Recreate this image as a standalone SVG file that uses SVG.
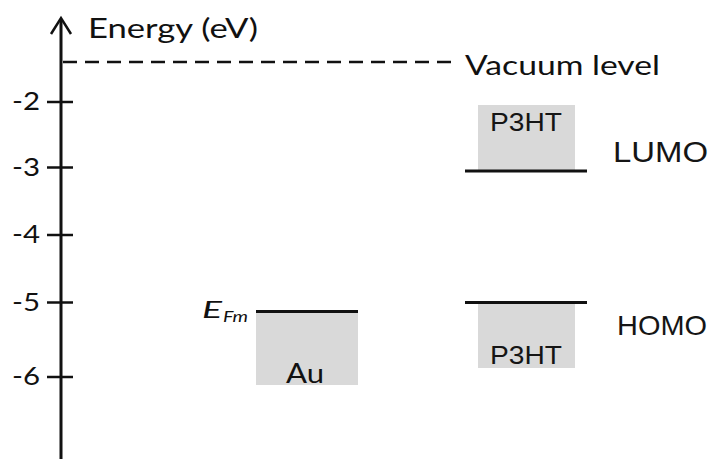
<svg xmlns="http://www.w3.org/2000/svg" width="719" height="459" viewBox="0 0 719 459">
<style>
.cal{font-family:Lato,"Open Sans","Liberation Sans",sans-serif;fill:#111}
.ari{font-family:"Liberation Sans",Arial,sans-serif;fill:#151515}
.band{fill:#d9d9d9}
.lvl{stroke:#111;stroke-width:3;fill:none}
.tick{stroke:#111;stroke-width:2.5;fill:none}
</style>
<rect width="719" height="459" fill="#fff"/>
<g id="axis">
<line x1="61" y1="19" x2="61" y2="459" stroke="#111" stroke-width="3"/>
<polyline points="51,34 61,18 71,34" fill="none" stroke="#111" stroke-width="2.5"/>
<text class="cal" x="88" y="38" font-size="26" textLength="170" lengthAdjust="spacingAndGlyphs">Energy (eV)</text>
<line class="tick" x1="47" y1="102" x2="73" y2="102"/>
<line class="tick" x1="47" y1="167.5" x2="73" y2="167.5"/>
<line class="tick" x1="47" y1="235" x2="73" y2="235"/>
<line class="tick" x1="47" y1="302.5" x2="73" y2="302.5"/>
<line class="tick" x1="47" y1="377" x2="73" y2="377"/>
<text class="cal" x="12" y="110" font-size="25" textLength="28" lengthAdjust="spacingAndGlyphs">-2</text>
<text class="cal" x="12" y="175.5" font-size="25" textLength="28" lengthAdjust="spacingAndGlyphs">-3</text>
<text class="cal" x="12" y="243" font-size="25" textLength="28" lengthAdjust="spacingAndGlyphs">-4</text>
<text class="cal" x="12" y="310.5" font-size="25" textLength="28" lengthAdjust="spacingAndGlyphs">-5</text>
<text class="cal" x="12" y="385" font-size="25" textLength="28" lengthAdjust="spacingAndGlyphs">-6</text>
</g>
<g id="vacuum">
<line x1="63" y1="62" x2="455" y2="62" stroke="#111" stroke-width="2.5" stroke-dasharray="14,8"/>
<text class="cal" x="465" y="75" font-size="27" textLength="195" lengthAdjust="spacingAndGlyphs">Vacuum level</text>
</g>
<g id="p3ht-lumo">
<rect class="band" x="478" y="105" width="97" height="65"/>
<line class="lvl" x1="465" y1="171" x2="587" y2="171"/>
<text class="ari" x="490" y="131" font-size="26" textLength="72" lengthAdjust="spacingAndGlyphs">P3HT</text>
<text class="ari" x="613" y="162" font-size="30" textLength="95" lengthAdjust="spacingAndGlyphs">LUMO</text>
</g>
<g id="p3ht-homo">
<rect class="band" x="478" y="304" width="97" height="64"/>
<line class="lvl" x1="465" y1="302.5" x2="587" y2="302.5"/>
<text class="ari" x="490" y="364" font-size="26" textLength="72" lengthAdjust="spacingAndGlyphs">P3HT</text>
<text class="ari" x="617" y="335" font-size="28" textLength="90" lengthAdjust="spacingAndGlyphs">HOMO</text>
</g>
<g id="au">
<rect class="band" x="256" y="312" width="102" height="73"/>
<line class="lvl" x1="256" y1="311.5" x2="358" y2="311.5"/>
<text class="cal" x="286" y="383" font-size="26" textLength="38" lengthAdjust="spacingAndGlyphs">Au</text>
<text class="cal" x="202" y="318" font-size="24" font-style="italic" textLength="20" lengthAdjust="spacingAndGlyphs">E</text>
<text class="cal" x="223" y="322" font-size="16" font-style="italic" textLength="25" lengthAdjust="spacingAndGlyphs">Fm</text>
</g>
</svg>
